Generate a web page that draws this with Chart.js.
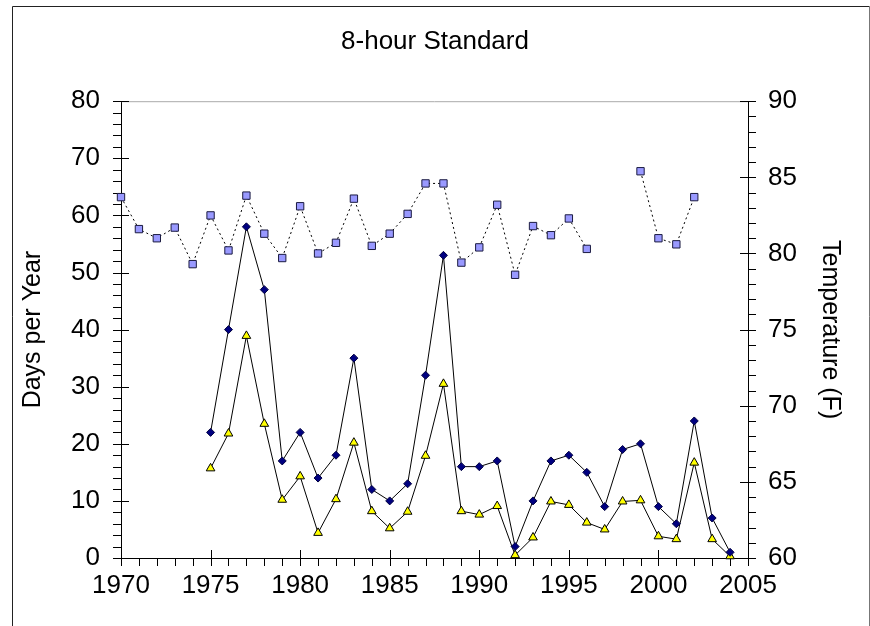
<!DOCTYPE html>
<html>
<head>
<meta charset="utf-8">
<title>8-hour Standard</title>
<script src="https://cdn.jsdelivr.net/npm/chart.js@4.4.0/dist/chart.umd.min.js"></script>
<style>
  body { margin: 0; background: #fff; }
  #chart1 { display: block; }
</style>
</head>
<body>
<canvas id="chart1" width="870" height="626"></canvas>
<script>
// data
const years = [1970, 1971, 1972, 1973, 1974, 1975, 1976, 1977, 1978, 1979, 1980, 1981, 1982, 1983, 1984, 1985, 1986, 1987,
  1988, 1989, 1990, 1991, 1992, 1993, 1994, 1995, 1996, 1997, 1998, 1999, 2000, 2001, 2002, 2003, 2004];
const daysOver = [null, null, null, null, null, 22, 40, 58, 47, 17, 22, 14, 18, 35, 12, 10, 13, 32,
  53, 16, 16, 17, 2, 10, 17, 18, 15, 9, 19, 20, 9, 6, 24, 7, 1];
const daysAdjusted = [null, null, null, null, null, 15.7, 21.8, 38.9, 23.5, 10.2, 14.3, 4.4, 10.3, 20.2, 8.2, 5.2, 8.1, 17.9,
  30.5, 8.2, 7.6, 9.1, 0.5, 3.6, 9.9, 9.3, 6.2, 5.0, 9.9, 10.1, 3.8, 3.3, 16.7, 3.3, 0.3];
const temperature = [83.7, 81.6, 81.0, 81.7, 79.3, 82.5, 80.2, 83.8, 81.3, 79.7, 83.1, 80.0, 80.7, 83.6, 80.5, 81.3, 82.6, 84.6,
  84.6, 79.4, 80.4, 83.2, 78.6, 81.8, 81.2, 82.3, 80.3, null, null, 85.4, 81.0, 80.6, 83.7, null, null];

const chartTitle = '8-hour Standard';
const leftTitle = 'Days per Year';
const rightTitle = 'Temperature (F)';

const FONT = "'Liberation Sans', Arial, sans-serif";

function points(values) {
  return years.map((yr, i) => ({ x: yr, y: values[i] }));
}

// frame, top border line and the tick marks
const framePlugin = {
  id: 'frame',
  beforeDatasetsDraw(chart) {
    const ctx = chart.ctx;
    const area = chart.chartArea;
    const xs = chart.scales.x, ys = chart.scales.y, y1 = chart.scales.y1;
    ctx.save();
    ctx.lineWidth = 1;

    ctx.strokeStyle = '#aaaaaa';
    ctx.beginPath();
    ctx.moveTo(area.left, area.top + 0.5);
    ctx.lineTo(area.right, area.top + 0.5);
    ctx.stroke();

    ctx.strokeStyle = '#000';
    ctx.beginPath();
    for (let v = 0; v <= 80; v += 2) {
      const p = Math.round(ys.getPixelForValue(v)) + 0.5;
      const major = v % 10 === 0;
      ctx.moveTo(area.left - 8, p);
      ctx.lineTo(major ? area.left + 8 : area.left, p);
    }
    for (let v = 60; v <= 90; v += 1) {
      const p = Math.round(y1.getPixelForValue(v)) + 0.5;
      const major = v % 5 === 0;
      ctx.moveTo(major ? area.right - 8 : area.right, p);
      ctx.lineTo(area.right + 8, p);
    }
    for (let v = 1970; v <= 2005; v += 1) {
      const p = Math.round(xs.getPixelForValue(v)) + 0.5;
      const major = v % 5 === 0;
      ctx.moveTo(p, major ? area.bottom - 8 : area.bottom);
      ctx.lineTo(p, area.bottom + 8);
    }
    ctx.stroke();

    // outer frame
    ctx.strokeStyle = '#222';
    ctx.beginPath();
    ctx.moveTo(12.5, chart.height);
    ctx.lineTo(12.5, 6.5);
    ctx.lineTo(869.5, 6.5);
    ctx.stroke();
    ctx.strokeStyle = '#777';
    ctx.beginPath();
    ctx.moveTo(869.5, 6.5);
    ctx.lineTo(869.5, chart.height);
    ctx.stroke();
    ctx.restore();
  }
};

const ctx = document.getElementById('chart1').getContext('2d');
const chart = new Chart(ctx, {
  type: 'line',
  data: {
    datasets: [
      {
        label: 'Temperature',
        data: points(temperature),
        yAxisID: 'y1',
        borderColor: '#000',
        borderWidth: 1,
        borderDash: [2, 3],
        pointStyle: 'rect',
        pointRadius: 5.2,
        pointBackgroundColor: '#9999ff',
        pointBorderColor: '#1a1a40',
        pointBorderWidth: 1,
        fill: false,
        spanGaps: false,
        clip: false
      },
      {
        label: 'Days',
        data: points(daysOver),
        yAxisID: 'y',
        borderColor: '#000',
        borderWidth: 1,
        pointStyle: 'rectRot',
        pointRadius: 4,
        pointBackgroundColor: '#000080',
        pointBorderColor: '#000040',
        pointBorderWidth: 1,
        fill: false,
        clip: false
      },
      {
        label: 'Adjusted days',
        data: points(daysAdjusted),
        yAxisID: 'y',
        borderColor: '#000',
        borderWidth: 1,
        pointStyle: 'triangle',
        pointRadius: 5,
        pointBackgroundColor: '#ffff00',
        pointBorderColor: '#000',
        pointBorderWidth: 1,
        fill: false,
        clip: false
      }
    ]
  },
  options: {
    responsive: false,
    animation: false,
    layout: { padding: 0 },
    plugins: {
      legend: { display: false },
      tooltip: { enabled: false },
      title: {
        display: true,
        text: chartTitle,
        color: '#000',
        font: { family: FONT, size: 26, weight: 'normal' },
        padding: { top: 26, bottom: 44 }
      }
    },
    scales: {
      x: {
        type: 'linear',
        min: 1970,
        max: 2005,
        afterFit: (scale) => { scale.height = 68; },
        grid: { drawOnChartArea: false, drawTicks: false },
        border: { display: true, color: '#000', width: 1 },
        ticks: {
          stepSize: 5,
          padding: 12,
          color: '#000',
          font: { family: FONT, size: 26 },
          maxRotation: 0,
          callback: (v) => String(v)
        }
      },
      y: {
        position: 'left',
        min: 0,
        max: 80,
        afterFit: (scale) => { scale.width = 121; },
        grid: { drawOnChartArea: false, drawTicks: false },
        border: { display: true, color: '#000', width: 1 },
        ticks: {
          stepSize: 10,
          padding: 21,
          color: '#000',
          font: { family: FONT, size: 26 }
        },
        title: {
          display: true,
          text: leftTitle,
          color: '#000',
          font: { family: FONT, size: 25 },
          padding: { top: 18, bottom: 0 }
        }
      },
      y1: {
        position: 'right',
        min: 60,
        max: 90,
        afterFit: (scale) => { scale.width = 122; },
        grid: { drawOnChartArea: false, drawTicks: false },
        border: { display: true, color: '#000', width: 1 },
        ticks: {
          stepSize: 5,
          padding: 20,
          color: '#000',
          font: { family: FONT, size: 26 }
        },
        title: {
          display: true,
          text: rightTitle,
          color: '#000',
          font: { family: FONT, size: 25 },
          padding: { top: 25, bottom: 0 }
        }
      }
    }
  },
  plugins: [framePlugin]
});
</script>
</body>
</html>
